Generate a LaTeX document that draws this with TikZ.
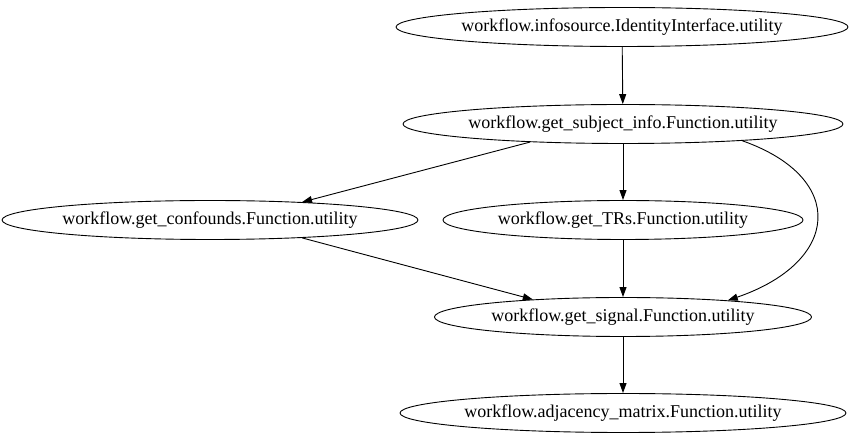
\documentclass[tikz,border=0pt]{standalone}
\usepackage{fontspec}
\setmainfont{Liberation Serif}
\usetikzlibrary{shapes.geometric,arrows.meta}
\begin{document}
\begin{tikzpicture}[x=1pt, y=-1pt, line join=round, >={Triangle[length=10pt,width=7pt]}]
	\tikzset{unit/.style={draw, ellipse, line width=0.9pt, minimum height=39pt, inner xsep=-60pt, inner ysep=0pt, font=\fontsize{18}{20}\selectfont},
		edge/.style={->, line width=0.9pt}}
	\useasboundingbox (0,0) rectangle (852,443);
	% nodes
	\node[unit, minimum width=452pt] (infosource) at (622,27) {workflow.infosource.IdentityInterface.utility};
	\node[unit, minimum width=440pt] (subjinfo) at (623,124) {workflow.get\_subject\_info.Function.utility};
	\node[unit, minimum width=416pt] (confounds) at (210,220) {workflow.get\_confounds.Function.utility};
	\node[unit, minimum width=360pt] (trs) at (623,220) {workflow.get\_TRs.Function.utility};
	\node[unit, minimum width=377pt] (signal) at (623,317) {workflow.get\_signal.Function.utility};
	\node[unit, minimum width=446pt] (adjmat) at (623,413) {workflow.adjacency\_matrix.Function.utility};
	% edges
	\draw[edge] (infosource) -- (subjinfo);
	\draw[edge] (subjinfo.-169) -- (confounds.11);
	\draw[edge] (subjinfo) -- (trs);
	\draw[edge] (subjinfo.-8) .. controls (848,178) and (840,262) .. (signal.9);
	\draw[edge] (confounds.-11) -- (signal.169);
	\draw[edge] (trs) -- (signal);
	\draw[edge] (signal) -- (adjmat);
\end{tikzpicture}
\end{document}
